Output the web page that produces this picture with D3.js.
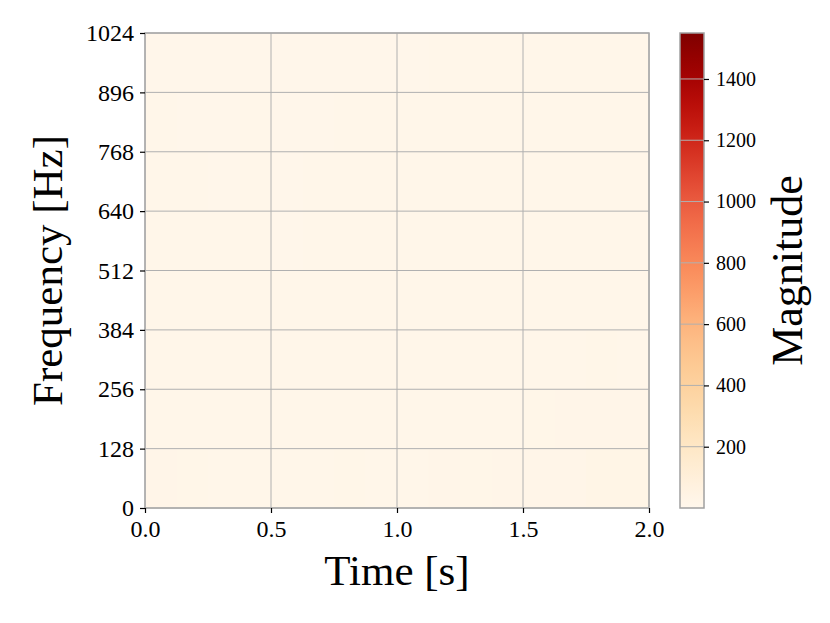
<!DOCTYPE html>
<html>
<head>
<meta charset="utf-8">
<script src="https://cdn.jsdelivr.net/npm/d3@7"></script>
<style>
  body { margin: 0; background: #fff; }
  text { font-family: "Liberation Serif", "DejaVu Serif", serif; fill: #000; }
</style>
</head>
<body>
<svg id="chart" width="830" height="623"></svg>
<script>
// time bins (s) and frequency bins (Hz)
var timeBins = [0, 0.125, 0.25, 0.375, 0.5, 0.625, 0.75, 0.875, 1.0, 1.125, 1.25, 1.375, 1.5, 1.625, 1.75, 1.875, 2.0];
var freqBins = [0, 128, 256, 384, 512, 640, 768, 896, 1024];
// magnitude, rows = frequency bins (low -> high), cols = time bins
var magnitude = [
  [20, 19, 18, 18, 17, 18, 19, 18, 18, 20, 19, 20, 22, 24, 30, 32],
  [17, 17, 16, 17, 15, 16, 17, 16, 17, 17, 17, 18, 19, 20, 22, 21],
  [16, 15, 15, 16, 14, 15, 16, 15, 15, 16, 16, 17, 17, 18, 19, 18],
  [15, 15, 14, 15, 14, 14, 15, 15, 15, 15, 16, 16, 16, 17, 17, 17],
  [15, 14, 14, 15, 13, 14, 15, 14, 14, 15, 15, 15, 16, 16, 16, 16],
  [14, 14, 13, 14, 13, 14, 14, 14, 14, 15, 15, 15, 15, 16, 16, 16],
  [14, 13, 13, 14, 13, 13, 14, 14, 14, 14, 15, 15, 15, 15, 16, 15],
  [13, 13, 13, 13, 12, 13, 13, 13, 13, 14, 14, 14, 15, 15, 15, 15]
];
var xTicks = [0, 0.5, 1.0, 1.5, 2.0];
var yTicks = [0, 128, 256, 384, 512, 640, 768, 896, 1024];
var cbTicks = [200, 400, 600, 800, 1000, 1200, 1400];
var cbRange = [0, 1550];

var svg = d3.select("#chart");
var pLeft = 145, pRight = 649, pTop = 33, pBottom = 508;

var x = d3.scaleLinear().domain([0, 2]).range([pLeft, pRight]);
var y = d3.scaleLinear().domain([0, 1024]).range([pBottom, pTop]);
var color = d3.scaleSequential(d3.interpolateOrRd).domain(cbRange);

// heatmap cells
var cells = [];
magnitude.forEach(function(row, i) {
  row.forEach(function(v, j) {
    cells.push({t0: timeBins[j], t1: timeBins[j + 1], f0: freqBins[i], f1: freqBins[i + 1], v: v});
  });
});
svg.append("g").selectAll("rect")
  .data(cells)
  .enter()
  .append("rect")
  .attr("x", function(d) { return x(d.t0); })
  .attr("y", function(d) { return y(d.f1); })
  .attr("width", function(d) { return x(d.t1) - x(d.t0) + 0.5; })
  .attr("height", function(d) { return y(d.f0) - y(d.f1) + 0.5; })
  .attr("fill", function(d) { return color(d.v); });

// grid
svg.append("g").selectAll("line")
  .data(xTicks)
  .enter().append("line")
  .attr("x1", function(d) { return x(d); }).attr("x2", function(d) { return x(d); })
  .attr("y1", pTop).attr("y2", pBottom)
  .attr("stroke", "#b0b0b0").attr("stroke-width", 1);
svg.append("g").selectAll("line")
  .data(yTicks)
  .enter().append("line")
  .attr("y1", function(d) { return y(d); }).attr("y2", function(d) { return y(d); })
  .attr("x1", pLeft).attr("x2", pRight)
  .attr("stroke", "#b0b0b0").attr("stroke-width", 1);

// frame
svg.append("rect")
  .attr("x", pLeft).attr("y", pTop)
  .attr("width", pRight - pLeft).attr("height", pBottom - pTop)
  .attr("fill", "none").attr("stroke", "#a8a8a8").attr("stroke-width", 1.5);

// axes
var xAxis = svg.append("g")
  .attr("transform", "translate(0," + pBottom + ")")
  .call(d3.axisBottom(x).tickValues(xTicks).tickFormat(d3.format(".1f")).tickSize(5).tickPadding(7));
var yAxis = svg.append("g")
  .attr("transform", "translate(" + pLeft + ",0)")
  .call(d3.axisLeft(y).tickValues(yTicks).tickFormat(d3.format("d")).tickSize(5).tickPadding(6));
[xAxis, yAxis].forEach(function(a) {
  a.select(".domain").remove();
  a.selectAll("line").attr("stroke", "#000").attr("stroke-width", 1.2);
  a.selectAll("text").style("font-size", "24px").style("font-family", "'Liberation Serif', serif");
});

// axis labels
svg.append("text")
  .attr("x", (pLeft + pRight) / 2).attr("y", 585)
  .attr("text-anchor", "middle")
  .style("font-size", "43px")
  .text("Time [s]");
svg.append("text")
  .attr("transform", "translate(62," + (pTop + pBottom) / 2 + ") rotate(-90)")
  .attr("text-anchor", "middle")
  .style("font-size", "43px")
  .text("Frequency [Hz]");

// colorbar
var cbLeft = 680, cbWidth = 24;
var cy = d3.scaleLinear().domain(cbRange).range([pBottom, pTop]);
var grad = svg.append("defs").append("linearGradient")
  .attr("id", "cbgrad").attr("x1", 0).attr("y1", 1).attr("x2", 0).attr("y2", 0);
d3.range(0, 1.0001, 0.05).forEach(function(p) {
  grad.append("stop").attr("offset", p).attr("stop-color", color(cbRange[0] + p * (cbRange[1] - cbRange[0])));
});
svg.append("rect")
  .attr("x", cbLeft).attr("y", pTop)
  .attr("width", cbWidth).attr("height", pBottom - pTop)
  .attr("fill", "url(#cbgrad)");
svg.append("g").selectAll("line")
  .data(cbTicks)
  .enter().append("line")
  .attr("x1", cbLeft).attr("x2", cbLeft + cbWidth)
  .attr("y1", function(d) { return cy(d); }).attr("y2", function(d) { return cy(d); })
  .attr("stroke", "#b0b0b0").attr("stroke-width", 1);
svg.append("rect")
  .attr("x", cbLeft).attr("y", pTop)
  .attr("width", cbWidth).attr("height", pBottom - pTop)
  .attr("fill", "none").attr("stroke", "#a0a0a0").attr("stroke-width", 1.5);
var cbAxis = svg.append("g")
  .attr("transform", "translate(" + (cbLeft + cbWidth) + ",0)")
  .call(d3.axisRight(cy).tickValues(cbTicks).tickFormat(d3.format("d")).tickSize(5).tickPadding(7));
cbAxis.select(".domain").remove();
cbAxis.selectAll("line").attr("stroke", "#000").attr("stroke-width", 1.2);
cbAxis.selectAll("text").style("font-size", "20px").style("font-family", "'Liberation Serif', serif");

svg.append("text")
  .attr("transform", "translate(802," + (pTop + pBottom) / 2 + ") rotate(-90)")
  .attr("text-anchor", "middle")
  .style("font-size", "44px")
  .text("Magnitude");
</script>
</body>
</html>
